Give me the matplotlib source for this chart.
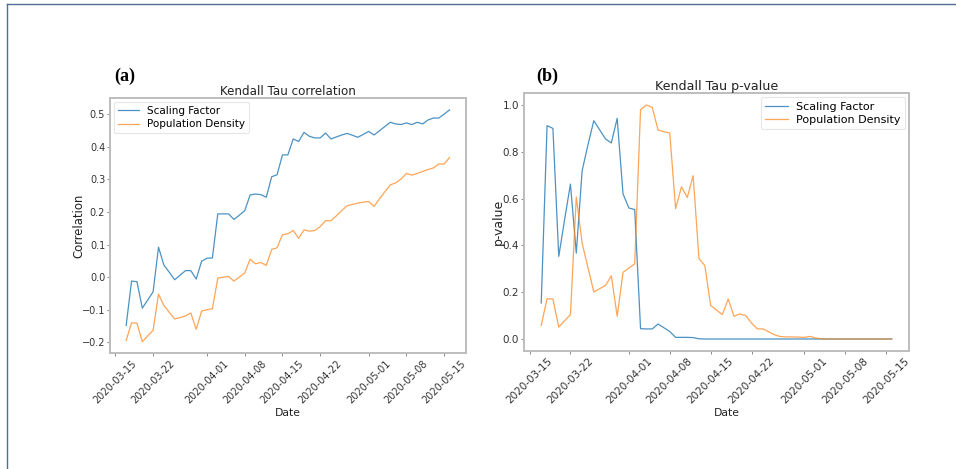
import matplotlib
matplotlib.use("Agg")
import matplotlib.pyplot as plt
import matplotlib.dates as mdates
from matplotlib.lines import Line2D
import pandas as pd

dates = pd.date_range("2020-03-17", "2020-05-16", freq="D")

corr_scaling = [
    -0.148, -0.012, -0.014, -0.095, -0.070, -0.045, 0.092, 0.037, 0.015, -0.008,
    0.006, 0.020, 0.020, -0.006, 0.049, 0.058, 0.059, 0.194, 0.194, 0.194,
    0.177, 0.190, 0.204, 0.252, 0.255, 0.253, 0.245, 0.308, 0.314, 0.375,
    0.375, 0.424, 0.416, 0.444, 0.432, 0.427, 0.427, 0.442, 0.424, 0.430,
    0.436, 0.441, 0.435, 0.429, 0.438, 0.447, 0.436, 0.449, 0.462, 0.475,
    0.470, 0.468, 0.473, 0.468, 0.475, 0.470, 0.482, 0.488, 0.488, 0.500,
    0.513,
]
corr_density = [
    -0.194, -0.140, -0.141, -0.198, -0.180, -0.163, -0.052, -0.087, -0.108, -0.128,
    -0.124, -0.119, -0.110, -0.160, -0.104, -0.100, -0.097, -0.003, 0.000, 0.002,
    -0.012, 0.000, 0.013, 0.055, 0.041, 0.045, 0.036, 0.085, 0.090, 0.130,
    0.133, 0.143, 0.119, 0.145, 0.141, 0.143, 0.155, 0.173, 0.173, 0.188,
    0.204, 0.219, 0.223, 0.227, 0.230, 0.232, 0.217, 0.240, 0.262, 0.283,
    0.289, 0.301, 0.318, 0.313, 0.318, 0.324, 0.330, 0.335, 0.347, 0.347,
    0.367,
]
pval_scaling = [
    0.154, 0.912, 0.900, 0.353, 0.510, 0.662, 0.367, 0.719, 0.830, 0.933,
    0.894, 0.855, 0.838, 0.943, 0.620, 0.560, 0.553, 0.044, 0.043, 0.043,
    0.064, 0.048, 0.032, 0.007, 0.007, 0.007, 0.006, 0.001, 0.000, 0.000,
    0.000, 0.000, 0.000, 0.000, 0.000, 0.000, 0.000, 0.000, 0.000, 0.000,
    0.000, 0.000, 0.000, 0.000, 0.000, 0.000, 0.000, 0.000, 0.000, 0.000,
    0.000, 0.000, 0.000, 0.000, 0.000, 0.000, 0.000, 0.000, 0.000, 0.000,
    0.000,
]
pval_density = [
    0.058, 0.172, 0.171, 0.051, 0.078, 0.104, 0.607, 0.410, 0.305, 0.201,
    0.215, 0.229, 0.270, 0.097, 0.285, 0.303, 0.321, 0.980, 1.000, 0.990,
    0.893, 0.886, 0.880, 0.557, 0.650, 0.605, 0.698, 0.344, 0.314, 0.143,
    0.124, 0.104, 0.171, 0.097, 0.107, 0.100, 0.068, 0.043, 0.043, 0.030,
    0.017, 0.010, 0.009, 0.009, 0.008, 0.007, 0.011, 0.004, 0.001, 0.000,
    0.000, 0.000, 0.000, 0.000, 0.000, 0.000, 0.000, 0.000, 0.000, 0.000,
    0.000,
]

series_labels = ["Scaling Factor", "Population Density"]
titles = ["Kendall Tau correlation", "Kendall Tau p-value"]
ylabels = ["Correlation", "p-value"]
panel_tags = ["(a)", "(b)"]

BLUE = "#1f77b4"
ORANGE = "#ff7f0e"
SPINE = "#bdbdbd"
TXT = "#333333"

fig = plt.figure(figsize=(9.56, 4.69), dpi=100)
W, H = 956, 469

def px_axes(x0, x1, ytop, ybot):
    return fig.add_axes([x0 / W, (H - ybot) / H, (x1 - x0) / W, (ybot - ytop) / H])

ax1 = px_axes(110, 465.7, 98.3, 353.3)
ax2 = px_axes(523.7, 909.3, 93.3, 350.7)

# (axes, s1, s2, tick fs, legend fs, legend loc, ylabel coords, xlabel coords,
#  title pad, title fs, ylabel fs)
specs = [
    (ax1, corr_scaling, corr_density, 7, 7.5, "upper left", (-0.068, 0.5), (0.5, -0.214), 2.0, 8.6, 8.4),
    (ax2, pval_scaling, pval_density, 7.5, 8, "upper right", (-0.05, 0.5), (0.526, -0.223), 2.5, 9.1, 9.0),
]

for i, (ax, s1, s2, tfs, lfs, loc, ylc, xlc, tpad, titfs, ylfs) in enumerate(specs):
    ax.plot(dates, s1, color=BLUE, lw=0.9, alpha=0.8, label=series_labels[0])
    ax.plot(dates, s2, color=ORANGE, lw=0.9, alpha=0.7, label=series_labels[1])
    ax.xaxis.set_major_locator(mdates.DayLocator(bymonthday=[1, 8, 15, 22]))
    ax.xaxis.set_major_formatter(mdates.DateFormatter("%Y-%m-%d"))
    for lab in ax.get_xticklabels():
        lab.set_rotation(45)
        lab.set_ha("center")
    for sp in ax.spines.values():
        sp.set_color(SPINE)
        sp.set_linewidth(1.4)
    ax.tick_params(axis="both", labelsize=tfs, labelcolor=TXT, length=2.0, width=0.7,
                   color="#888888", pad=1.5)
    ax.set_title(titles[i], fontsize=titfs, pad=tpad, color="#222222")
    ax.set_ylabel(ylabels[i], fontsize=ylfs, color="#222222")
    ax.yaxis.set_label_coords(*ylc)
    ax.set_xlabel("Date", fontsize=7.8, color="#222222")
    ax.xaxis.set_label_coords(*xlc)
    leg = ax.legend(loc=loc, fontsize=lfs, frameon=True, borderaxespad=0.35,
                    handlelength=2.0, labelspacing=0.3)
    leg.get_frame().set_edgecolor("#e0e0e0")
    leg.get_frame().set_linewidth(0.8)

fig.text(114 / W, 1 - 81 / H, panel_tags[0], fontsize=13, fontweight="bold",
         family="Liberation Serif", ha="left", va="baseline")
fig.text(536 / W, 1 - 81 / H, panel_tags[1], fontsize=13, fontweight="bold",
         family="Liberation Serif", ha="left", va="baseline")

# page frame (left and top edges)
fig.add_artist(Line2D([7.3 / W, 7.3 / W], [0, 1 - 4.3 / H], transform=fig.transFigure,
                      color="#4d6f98", lw=1.0))
fig.add_artist(Line2D([7.3 / W, 1], [1 - 4.3 / H, 1 - 4.3 / H], transform=fig.transFigure,
                      color="#4d6f98", lw=1.0))

fig.savefig("out.png", dpi=100)
